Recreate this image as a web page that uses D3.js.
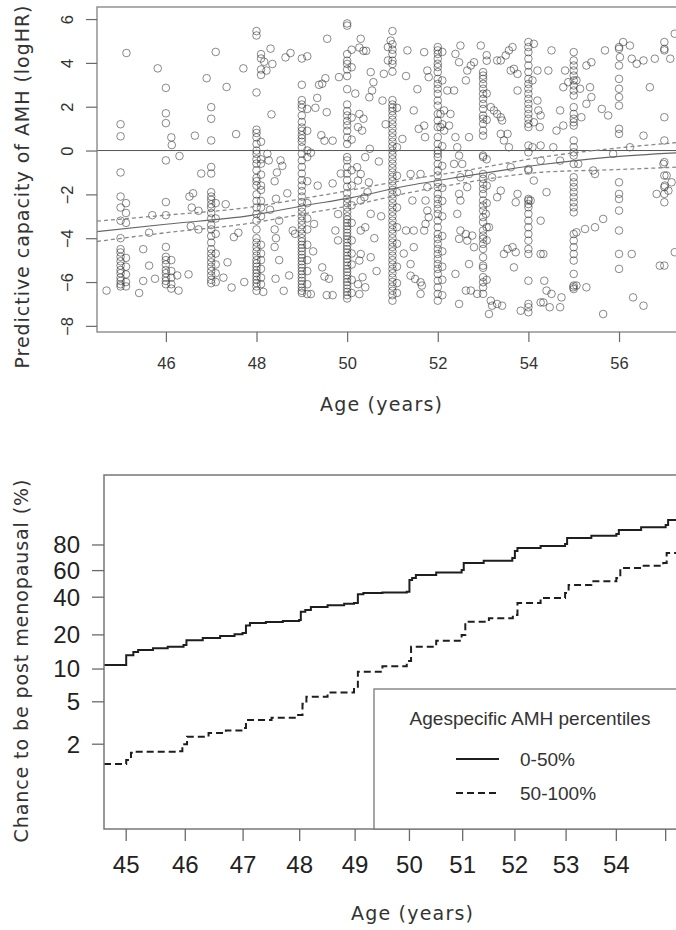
<!DOCTYPE html>
<html><head><meta charset="utf-8">
<script src="https://cdn.jsdelivr.net/npm/d3@7"></script>
<style>html,body{margin:0;padding:0;background:#fff;}svg{display:block;}</style>
</head><body>
<svg id="c" width="676" height="930"></svg>
<script>
// ---------- DATA: top panel (scatter) ----------
const topXTicks = [46, 48, 50, 52, 54, 56];
const topYTicks = [-8, -6, -4, -2, 0, 2, 4, 6];
const scatterColumnAges = [45, 45.12, 46, 46.12, 47, 47.1, 48, 48.1, 49, 49.12, 50, 50.1, 51, 51.1, 52, 52.1, 53, 53.08, 54, 55, 56, 57];
const scatterColumnValues = [
  [1.2,0.65,-1.0,-2.1,-2.6,-3.2,-4.0,-4.5,-4.65,-4.85,-5.05,-5.25,-5.45,-5.6,-5.8,-5.95,-6.1,-6.2],
  [-2.4,-2.85,-3.3,-4.9,-5.3,-5.65,-6.0,-6.2],
  [2.86,1.7,1.25,-0.45,-2.35,-2.95,-4.4,-4.85,-5.0,-5.2,-5.45,-5.6,-5.8,-5.95,-6.1],
  [0.6,-5.0,-5.5,-5.8,-6.1,-6.3],
  [1.98,1.45,0.46,-0.75,-1.05,-1.9,-2.1,-2.25,-2.45,-2.6,-2.85,-3.1,-3.4,-3.6,-3.9,-4.2,-4.5,-4.7,-4.9,-5.1,-5.3,-5.5,-5.7,-5.9,-6.05],
  [4.5,-2.4,-3.1,-3.8,-4.7,-5.2,-5.6,-6.0],
  [5.45,5.25,2.65,0.95,0.8,0.6,0.3,0.0,-0.15,-0.4,-0.6,-0.9,-1.25,-1.4,-1.6,-2.0,-2.3,-2.6,-2.9,-3.2,-3.6,-4.0,-4.2,-4.4,-4.6,-4.8,-5.0,-5.15,-5.3,-5.45,-5.6,-5.75,-5.9,-6.05,-6.2,-6.4],
  [4.4,4.2,3.7,3.45,0.4,-0.4,-0.6,-1.1,-1.6,-1.8,-2.3,-2.6,-3.0,-4.3,-4.7,-5.0,-5.4,-5.8,-6.1],
  [4.2,3.0,2.3,2.1,1.95,1.6,1.3,1.05,0.9,0.7,0.55,0.4,0.15,-0.15,-0.45,-0.75,-1.05,-1.35,-1.6,-1.85,-2.1,-2.35,-2.6,-2.8,-3.0,-3.2,-3.4,-3.6,-3.8,-4.0,-4.15,-4.3,-4.45,-4.6,-4.75,-4.9,-5.05,-5.2,-5.35,-5.5,-5.65,-5.8,-5.95,-6.1,-6.25,-6.4,-6.5],
  [4.3,1.9,0.9,0.0,-0.3,-1.4,-2.4,-3.1,-3.6,-4.3,-5.0,-5.5,-6.1,-6.55],
  [5.8,5.7,4.4,4.1,3.95,3.7,3.4,2.8,2.1,1.8,1.6,1.35,1.15,0.9,0.6,0.3,-0.3,-0.45,-0.75,-1.05,-1.35,-1.65,-1.95,-2.2,-2.4,-2.6,-2.8,-3.0,-3.15,-3.3,-3.45,-3.6,-3.75,-3.9,-4.05,-4.2,-4.35,-4.5,-4.65,-4.8,-4.95,-5.1,-5.25,-5.4,-5.55,-5.7,-5.85,-6.0,-6.15,-6.3,-6.45,-6.6,-6.75],
  [4.6,3.8,1.5,0.5,-0.9,-1.6,-2.5,-3.3,-4.1,-4.7,-5.2,-5.9,-6.5],
  [5.45,4.85,4.6,4.4,4.1,3.95,3.6,2.3,2.1,1.95,1.8,1.6,1.4,1.2,1.0,0.8,0.6,0.4,0.2,0.0,-0.2,-0.4,-0.6,-0.8,-1.0,-1.2,-1.4,-1.6,-1.8,-2.0,-2.2,-2.4,-2.6,-2.8,-3.0,-3.2,-3.4,-3.6,-3.8,-4.0,-4.2,-4.4,-4.6,-4.8,-5.0,-5.2,-5.4,-5.6,-5.8,-6.0,-6.2,-6.4,-6.6,-6.85],
  [1.95,0.15,-1.15,-1.9,-2.6,-3.5,-4.25,-5.3,-6.05,-6.5],
  [4.72,4.57,4.41,4.19,3.96,3.81,3.58,3.27,3.04,2.82,2.59,2.28,2.05,1.67,1.37,1.07,0.61,0.3,0.0,-0.15,-0.3,-0.61,-0.91,-1.14,-1.45,-1.67,-1.98,-2.21,-2.44,-2.66,-2.89,-3.2,-3.5,-3.81,-4.03,-4.26,-4.49,-4.72,-4.95,-5.18,-5.4,-5.63,-5.94,-6.24,-6.54,-6.85],
  [4.5,3.2,1.2,0.2,-0.7,-1.7,-2.3,-3.0,-3.9,-4.6,-5.3,-5.9,-6.6],
  [3.58,3.42,3.27,3.04,2.82,2.59,2.36,2.13,1.9,1.6,1.45,1.22,0.91,0.68,-0.23,-0.3,-1.07,-1.29,-1.52,-1.75,-1.98,-2.28,-2.51,-2.74,-3.04,-3.27,-3.65,-3.88,-4.03,-4.26,-4.49,-4.87,-5.25,-5.35,-5.78,-6.01,-6.24,-6.54],
  [4.35,4.1,2.6,1.4,-0.4,-1.6,-2.4,-3.5,-4.1,-5.9],
  [4.95,4.72,4.49,4.19,3.88,3.58,3.27,3.04,2.82,2.59,2.36,2.13,1.9,1.67,1.45,1.22,1.07,0.23,-0.08,-0.84,-0.91,-2.21,-2.28,-2.44,-2.59,-2.89,-3.2,-3.5,-3.81,-4.11,-4.49,-4.72,-5.94,-7.0,-7.15,-7.38],
  [4.49,4.11,3.88,3.65,3.42,3.2,2.97,2.74,2.51,1.98,1.67,1.45,1.29,1.14,0.46,0.15,-0.08,-0.23,-0.61,-1.22,-1.45,-1.67,-1.9,-2.13,-2.36,-2.59,-2.82,-3.81,-4.11,-4.41,-4.72,-5.02,-5.63,-6.16,-6.32],
  [4.72,4.64,3.88,3.27,2.82,2.44,2.05,0.99,0.76,-1.45,-1.98,-2.21,-2.74,-3.65,-4.72,-5.4],
  [4.95,4.64,4.57,1.52,0.46,-0.53,-1.14,-1.67,-1.98,-2.36,-5.25]
];
const scatterLoose = [
  [44.69,-6.39],[45.13,4.45],[45.41,-6.5],[45.5,-4.5],[45.63,-3.75],[45.63,-5.25],[45.5,-5.95],[45.7,-2.95],[45.76,-5.85],[45.82,3.75],
  [46.13,0.25],[46.3,-0.25],[46.5,-5.65],[46.52,-2.1],[46.6,-1.95],[46.57,-2.6],[46.72,-2.75],[46.55,-3.45],[46.72,-3.6],[46.78,-1.05],
  [46.9,3.3],[46.64,0.68],[46.25,-5.7],[46.28,-6.39],[47.34,2.9],[47.32,-2.45],[47.5,-3.95],[47.6,-3.75],[47.36,-5.1],[47.45,-6.25],
  [47.27,-5.8],[47.55,0.75],[47.71,3.75],[47.73,-6.0],
  [48.17,4.05],[48.31,4.65],[48.35,3.95],[48.22,3.65],[48.33,1.65],[48.24,-0.15],[48.27,-0.45],[48.53,-0.45],[48.57,-0.7],[48.4,-1.4],
  [48.43,-2.2],[48.68,-1.95],[48.4,-3.6],[48.43,-4.0],[48.4,-4.4],[48.5,-5.0],[48.42,-5.85],[48.6,-6.4],[48.72,-5.7],[48.15,-6.45],
  [48.64,4.25],[48.75,4.45],[48.8,-3.65],[48.85,-3.8],[48.5,-3.2],[48.45,-1.0],[48.3,-2.7],
  [49.2,-0.1],[49.27,-3.35],[49.45,-5.33],[49.5,-5.75],[49.55,-6.6],[49.56,5.1],[49.38,3.0],[49.45,3.05],[49.52,3.3],[49.34,2.4],
  [49.3,1.95],[49.55,1.75],[49.43,0.7],[49.5,0.45],[49.68,0.45],[49.68,-1.5],[49.82,3.35],[49.86,-1.05],[49.8,-2.9],[49.74,-3.65],
  [49.8,-4.1],[49.6,-5.85],[49.68,-6.6],[49.2,-6.55],[49.25,-4.6],[49.35,-1.6],
  [50.3,5.1],[50.36,4.55],[50.27,4.7],[50.42,4.55],[50.18,2.6],[50.27,1.67],[50.36,1.45],[50.24,1.07],[50.33,0.91],[50.5,0.08],
  [50.4,-0.3],[50.22,-0.76],[50.3,-1.07],[50.24,-1.37],[50.48,-1.45],[50.45,-1.9],[50.38,-2.13],[50.3,-2.28],[50.52,-2.89],[50.3,-3.65],
  [50.4,-3.5],[50.3,-4.72],[50.27,-5.02],[50.52,-4.87],[50.34,-5.78],[50.4,-6.24],[50.27,-6.55],[50.24,-6.1],[50.52,3.58],[50.58,3.12],
  [50.55,2.74],[50.49,2.43],[50.81,3.5],[50.78,2.28],[50.9,4.11],[50.9,4.72],[50.96,5.02],[50.7,-0.5],[50.75,-3.0],[50.65,-5.5],
  [50.85,1.2],[50.6,-4.0],
  [51.33,4.57],[51.47,1.83],[51.22,0.53],[51.4,-1.07],[51.44,-2.28],[51.3,-3.65],[51.25,-4.7],[51.47,-3.65],[51.47,-4.41],[51.7,-3.65],
  [51.4,-5.18],[51.4,-5.71],[51.5,-5.86],[51.62,-6.01],[51.65,-6.16],[51.62,-6.54],[51.62,-1.07],[51.58,0.99],[51.7,1.14],[51.72,0.61],
  [51.77,-1.67],[51.73,-2.28],[51.77,-2.74],[51.8,-3.04],[51.73,-3.35],[51.7,4.49],[51.77,3.65],[51.8,3.35],[51.55,2.8],[51.3,3.4],
  [52.21,2.74],[52.36,2.74],[52.14,1.83],[52.28,1.67],[52.06,1.67],[52.06,1.07],[52.14,0.91],[52.25,1.14],[52.39,0.61],[52.69,0.61],
  [52.43,0.15],[52.47,-0.23],[52.36,-0.61],[52.54,-0.61],[52.5,-1.22],[52.69,-1.07],[52.65,-1.67],[52.47,-1.98],[52.5,-2.28],[52.43,-2.89],
  [52.5,-3.65],[52.47,-4.03],[52.65,-4.11],[52.62,-3.81],[52.76,-3.88],[52.8,-4.41],[52.69,-5.18],[52.39,-5.63],[52.73,-6.39],[52.62,-6.39],
  [52.47,-7.0],[52.87,-6.54],[52.65,3.65],[52.47,4.03],[52.39,4.41],[52.5,4.79],[52.73,3.88],[52.8,4.03],[52.62,3.2],[52.95,4.79],
  [53.17,1.98],[53.24,1.83],[53.31,1.67],[53.39,1.52],[53.42,1.37],[53.31,4.11],[53.39,4.11],[53.5,4.34],[53.57,4.57],[53.65,4.72],
  [53.68,3.73],[53.76,3.5],[53.76,2.74],[53.61,3.65],[53.54,0.76],[53.39,0.76],[53.46,0.46],[53.57,0.15],[53.61,-0.76],[53.2,-1.22],
  [53.13,-3.5],[53.06,-2.89],[53.46,-4.72],[53.54,-4.49],[53.65,-4.41],[53.72,-4.64],[53.68,-5.33],[53.17,-6.85],[53.2,-7.08],[53.13,-7.46],
  [53.42,-7.08],[53.31,-7.0],[53.83,-7.31],[53.76,-1.98],[53.72,-2.36],[53.39,-1.83],[53.31,-2.13],
  [54.12,4.87],[54.2,3.65],[54.09,3.2],[54.2,2.28],[54.27,1.6],[54.12,1.29],[54.09,0.15],[54.27,0.23],[54.27,-0.46],[54.12,-1.37],
  [54.05,-2.28],[54.27,-3.2],[54.27,-4.72],[54.35,-5.94],[54.27,-6.93],[54.44,3.65],[54.22,1.83],[54.25,1.07],[54.55,0.15],[54.4,-1.9],
  [54.33,-4.72],[54.4,-6.39],[54.51,-6.54],[54.33,-6.93],[54.47,-7.15],[54.7,-7.15],[54.73,-6.7],[54.51,4.57],[54.7,1.83],[54.62,0.91],
  [54.77,1.14],[54.7,-0.46],[54.81,3.65],[54.77,2.89],[54.88,3.12],
  [55.06,3.2],[55.14,2.82],[55.1,-0.61],[55.28,3.88],[55.39,4.03],[55.28,2.13],[55.39,2.44],[55.36,2.89],[55.17,1.52],[55.62,1.9],
  [55.76,1.6],[55.69,4.57],[55.28,-6.24],[55.65,-7.46],[55.47,-3.5],[55.25,-3.58],[55.65,-3.12],[55.43,-0.91],[55.47,-1.07],[55.87,-0.15],
  [55.06,-3.73],[54.99,-6.24],[55.06,-6.16],
  [56.09,4.95],[56.24,4.79],[56.02,4.26],[56.39,3.96],[56.28,4.19],[56.54,4.11],[56.28,-4.72],[56.31,-6.7],[56.54,-7.08],[56.54,0.68],
  [56.24,0.15],[56.68,2.89],[56.79,4.19],
  [57.13,4.19],[57.23,5.33],[57.16,-1.45],[57.01,-1.6],[56.9,-5.25],[57.23,-4.64],[56.83,-1.98],[57.05,-1.14],[56.98,-0.61],[57.09,-1.83]
];
// fitted spline with confidence band
const fitAges  = [44.48, 46, 47.85, 49, 50.1, 51.3, 52.5, 54.3, 55.8, 57.5];
const fitValue = [-3.7, -3.36, -2.97, -2.53, -2.15, -1.62, -1.2, -0.64, -0.3, -0.08];
const fitUpper = [-3.22, -2.95, -2.59, -2.2, -1.8, -1.34, -0.95, -0.3, 0.08, 0.4];
const fitLower = [-4.15, -3.75, -3.32, -2.9, -2.5, -1.95, -1.5, -0.99, -0.88, -0.74];

// ---------- DATA: bottom panel (cumulative incidence) ----------
const botXTicks = [45, 46, 47, 48, 49, 50, 51, 52, 53, 54, 55];
const botXLabels = ["45","46","47","48","49","50","51","52","53","54",""];
const botYTicks = [2, 5, 10, 20, 40, 60, 80];
const lowAmhAges = [44.63,45.0,45.12,45.2,45.45,45.7,45.97,46.02,46.3,46.6,46.85,46.99,47.05,47.12,47.4,47.7,47.99,48.02,48.1,48.2,48.5,48.8,48.98,49.05,49.15,49.5,49.95,50.0,50.05,50.12,50.5,50.98,51.02,51.4,51.95,52.0,52.05,52.5,52.98,53.02,53.5,54.0,54.05,54.5,55.0,55.05,55.5];
const lowAmhPct  = [10.9,13.3,14.2,14.8,15.3,15.8,16.35,18.0,18.8,19.6,20.3,20.75,24.0,25.1,25.6,26.1,26.6,31.0,32.0,33.7,34.8,35.8,36.2,42.0,42.9,43.3,43.8,52.5,54.1,56.4,58.5,60.5,66.1,68.0,70.1,75.5,77.8,79.3,80.7,84.7,86.0,87.1,89.3,90.7,91.8,93.8,94.0];
const highAmhAges = [44.63,45.0,45.08,45.15,45.88,45.95,46.03,46.4,46.7,47.0,47.05,47.5,47.95,48.05,48.12,48.5,48.98,49.05,49.5,49.95,50.03,50.5,50.98,51.05,51.5,51.96,52.05,52.5,52.98,53.05,53.5,54.0,54.08,54.5,54.95,55.02,55.5];
const highAmhPct  = [1.30,1.42,1.66,1.70,1.72,2.0,2.35,2.55,2.7,2.84,3.38,3.55,3.76,4.8,5.57,6.1,6.71,9.45,10.6,11.8,15.8,17.8,19.95,25.8,27.5,29.2,36.2,39.5,42.9,48.7,51.5,54.1,62.1,64.0,66.1,74.0,77.8];
const legendTitle = "Agespecific AMH percentiles";
const legendLabels = ["0-50%", "50-100%"];

// ---------- DRAW ----------
const svg = d3.select("#c");
const AXIS = "#6a6a6a";
const titleFont = "'DejaVu Sans', Verdana, sans-serif";
const tickFont = "'Liberation Sans', Arial, sans-serif";

// ===== Top panel =====
const xT = d3.scaleLinear().domain([44.48, 57.5]).range([97, 687]);
const yT = d3.scaleLinear().domain([-8.28, 6.55]).range([332, 7]);
const gTop = svg.append("g");

const pts = [];
scatterColumnAges.forEach((a, i) => scatterColumnValues[i].forEach(v => pts.push([a, v])));
scatterLoose.forEach(p => pts.push(p));

gTop.append("g").selectAll("circle").data(pts).join("circle")
  .attr("cx", d => xT(d[0])).attr("cy", d => yT(d[1])).attr("r", 3.8)
  .attr("fill", "none").attr("stroke", "#2a2a2a").attr("stroke-opacity", 0.55).attr("stroke-width", 1);

gTop.append("line").attr("x1", xT(44.48)).attr("x2", xT(57.5)).attr("y1", yT(0)).attr("y2", yT(0))
  .attr("stroke", "#555").attr("stroke-width", 1);

const fitLine = vals => d3.line().x((d, i) => xT(fitAges[i])).y(d => yT(d)).curve(d3.curveMonotoneX)(vals);
gTop.append("path").attr("d", fitLine(fitValue)).attr("fill", "none").attr("stroke", "#666").attr("stroke-width", 1.1);
[fitUpper, fitLower].forEach(v => gTop.append("path").attr("d", fitLine(v)).attr("fill", "none")
  .attr("stroke", "#888").attr("stroke-width", 1.3).attr("stroke-dasharray", "4,3"));

gTop.append("rect").attr("x", 97).attr("y", 7).attr("width", 590).attr("height", 325)
  .attr("fill", "none").attr("stroke", "#8a8a8a").attr("stroke-width", 1.4);

// x ticks
const xa = gTop.append("g").attr("transform", "translate(0,332)")
  .call(d3.axisBottom(xT).tickValues(topXTicks).tickSize(10).tickSizeOuter(0).tickFormat(d3.format("d")));
xa.select(".domain").remove();
xa.selectAll("line").attr("stroke", AXIS).attr("stroke-width", 1.2);
xa.selectAll("text").attr("font-family", tickFont).attr("font-size", 16.5).attr("fill", "#333").attr("dy", "0.35em").attr("y", 31);

// y ticks (rotated labels)
const ya = gTop.append("g").attr("transform", "translate(97,0)")
  .call(d3.axisLeft(yT).tickValues(topYTicks).tickSize(11).tickSizeOuter(0).tickFormat(d3.format("d")));
ya.select(".domain").remove();
ya.selectAll("line").attr("stroke", AXIS).attr("stroke-width", 1.2);
ya.selectAll("text").attr("font-family", tickFont).attr("font-size", 16.5).attr("fill", "#333")
  .attr("x", null).attr("dy", null).attr("text-anchor", "middle").attr("dominant-baseline", "central")
  .attr("transform", "translate(-30,0) rotate(-90)");

const title = (g, txt, len) => g.append("text").attr("text-anchor", "middle")
  .attr("font-family", titleFont).attr("font-size", 19).attr("fill", "#333")
  .attr("textLength", len).attr("lengthAdjust", "spacing").text(txt);

title(gTop, "Age (years)", 122).attr("x", 381).attr("y", 411);
title(gTop, "Predictive capacity of AMH (logHR)", 363).attr("transform", "translate(29,187) rotate(-90)");

// ===== Bottom panel =====
const cll = p => Math.log(-Math.log(1 - p / 100));
const xB = d3.scaleLog().domain([44.63, 55.5]).range([104, 690]);
const yBl = d3.scaleLinear().domain([cll(0.313), cll(99.944)]).range([829, 475]);
const yB = p => yBl(cll(p));
const gBot = svg.append("g");

const stepLine = (ages, vals) => d3.line().x((d, i) => xB(ages[i])).y(d => yB(d)).curve(d3.curveStepAfter)(vals);
gBot.append("path").attr("d", stepLine(lowAmhAges, lowAmhPct)).attr("fill", "none")
  .attr("stroke", "#1e1e1e").attr("stroke-width", 2);
gBot.append("path").attr("d", stepLine(highAmhAges, highAmhPct)).attr("fill", "none")
  .attr("stroke", "#1e1e1e").attr("stroke-width", 2).attr("stroke-dasharray", "7,4");

gBot.append("rect").attr("x", 104).attr("y", 475).attr("width", 586).attr("height", 354)
  .attr("fill", "none").attr("stroke", "#777").attr("stroke-width", 1.5);

// legend
const lg = gBot.append("g");
lg.append("rect").attr("x", 374).attr("y", 689).attr("width", 312).attr("height", 140)
  .attr("fill", "#fff").attr("stroke", "#777").attr("stroke-width", 1.3);
lg.append("text").attr("x", 530).attr("y", 725).attr("text-anchor", "middle")
  .attr("font-family", tickFont).attr("font-size", 19).attr("fill", "#333").text(legendTitle);
legendLabels.forEach((lab, i) => {
  const yy = 759 + i * 34;
  lg.append("line").attr("x1", 456).attr("x2", 499).attr("y1", yy).attr("y2", yy)
    .attr("stroke", "#1e1e1e").attr("stroke-width", 2).attr("stroke-dasharray", i ? "7,4" : null);
  lg.append("text").attr("x", 520).attr("y", yy + 7).attr("font-family", tickFont).attr("font-size", 19)
    .attr("fill", "#333").text(lab);
});

// x ticks
const bx = gBot.append("g").attr("transform", "translate(0,829)");
bx.selectAll("line").data(botXTicks).join("line")
  .attr("x1", d => xB(d)).attr("x2", d => xB(d)).attr("y1", 0).attr("y2", 12)
  .attr("stroke", AXIS).attr("stroke-width", 1.3);
bx.selectAll("text").data(botXTicks).join("text")
  .attr("x", d => xB(d)).attr("y", 44).attr("text-anchor", "middle")
  .attr("font-family", tickFont).attr("font-size", 24).attr("fill", "#222")
  .text((d, i) => botXLabels[i]);

// y ticks
const by = gBot.append("g").attr("transform", "translate(104,0)");
by.selectAll("line").data(botYTicks).join("line")
  .attr("x1", -12).attr("x2", 0).attr("y1", d => yB(d)).attr("y2", d => yB(d))
  .attr("stroke", AXIS).attr("stroke-width", 1.3);
by.selectAll("text").data(botYTicks).join("text")
  .attr("x", -24).attr("y", d => yB(d)).attr("dy", "0.35em").attr("text-anchor", "end")
  .attr("font-family", tickFont).attr("font-size", 24).attr("fill", "#222").text(d => d);

title(gBot, "Age (years)", 122).attr("x", 412).attr("y", 920);
title(gBot, "Chance to be post menopausal  (%)", 363).attr("transform", "translate(28,661) rotate(-90)");
</script>
</body></html>
